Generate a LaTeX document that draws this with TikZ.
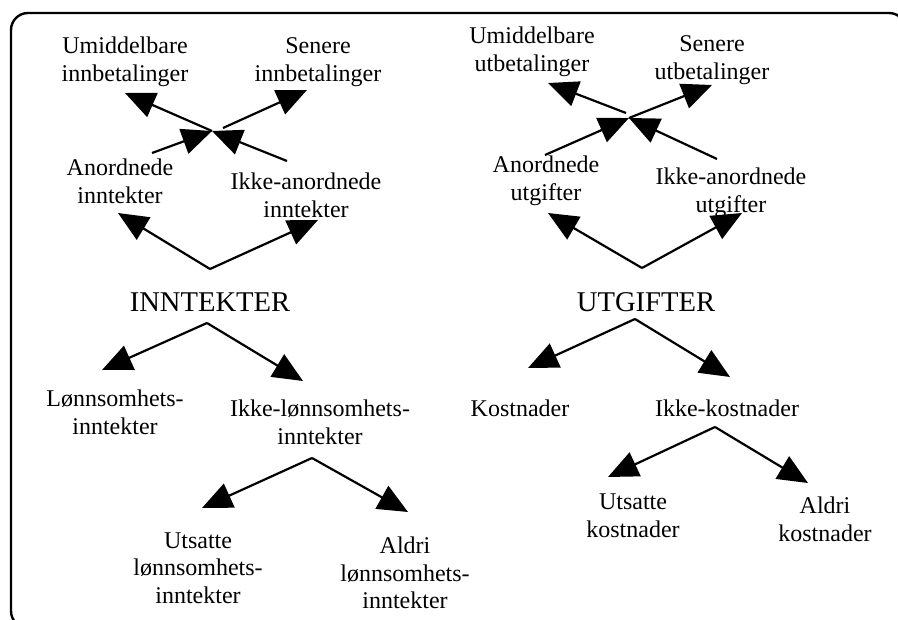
\documentclass[tikz,border=0pt]{standalone}
\usepackage{fontspec}
\setmainfont{Liberation Serif}
\usetikzlibrary{arrows.meta}
\tikzset{>={Triangle[length=15pt,width=13pt]},
  lbl/.style={align=center,inner sep=0pt,font=\fontsize{12}{13.8}\selectfont},
  big/.style={inner sep=0pt,font=\fontsize{14.3}{16}\selectfont},
  arr/.style={->,line width=1.1pt}}

\begin{document}
\begin{tikzpicture}[x=0.5pt,y=-0.5pt]
\useasboundingbox (0,0) rectangle (898,620);
\clip (0,0) rectangle (898,620);
\draw[line width=1.2pt,rounded corners=8.5pt] (11,13) rectangle (906,628);
\node[big] (inn) at (210,302) {INNTEKTER};
\node[big] (utg) at (646,302) {UTGIFTER};
\node[lbl] (umiI) at (125,62) {Umiddelbare\\innbetalinger};
\node[lbl] (senI) at (318,62) {Senere\\innbetalinger};
\node[lbl] (anoI) at (120,181) {Anordnede\\inntekter};
\node[lbl] (ikaI) at (306,195) {Ikke-anordnede\\inntekter};
\node[lbl] (lon) at (115,412) {Lønnsomhets-\\inntekter};
\node[lbl] (ikl) at (320,422) {Ikke-lønnsomhets-\\inntekter};
\node[lbl] (utsI) at (198,568) {Utsatte\\lønnsomhets-\\inntekter};
\node[lbl] (aldI) at (405,573) {Aldri\\lønnsomhets-\\inntekter};
\node[lbl] (umiU) at (532,52) {Umiddelbare\\utbetalinger};
\node[lbl] (senU) at (712,60) {Senere\\utbetalinger};
\node[lbl] (anoU) at (546,181) {Anordnede\\utgifter};
\node[lbl] (ikaU) at (731,193) {Ikke-anordnede\\utgifter};
\node[lbl] (kos) at (520,408) {Kostnader};
\node[lbl] (ikk) at (727,408) {Ikke-kostnader};
\node[lbl] (utsU) at (633,516) {Utsatte\\kostnader};
\node[lbl] (aldU) at (825,519) {Aldri\\kostnader};
\coordinate (mI) at (212,131);
\coordinate (mU) at (629,118);
\coordinate (sIkaI) at (287,161);
\coordinate (sAnoI) at (152,153);
\coordinate (sSenI) at (223,128);
\coordinate (tUmiI) at (125,93);
\coordinate (tSenI) at (307,90);
\coordinate (sIkaU) at (717,159);
\coordinate (sAnoU) at (545,155);
\coordinate (sUmiU) at (626,113);
\coordinate (tUmiU) at (548,83);
\coordinate (tSenU) at (712,85);
\coordinate (vI1) at (210,269);
\coordinate (vI2) at (207,323);
\coordinate (vI3) at (312,458);
\coordinate (vU1) at (642,268);
\coordinate (vU2) at (635,319);
\coordinate (vU3) at (715,427);
\coordinate (tAnoI) at (118,213);
\coordinate (tIkaI) at (318,220);
\coordinate (tLon) at (102,370);
\coordinate (tIkl) at (303,381);
\coordinate (tUtsI) at (202,508);
\coordinate (tAldI) at (408,512);
\coordinate (tAnoU) at (548,213);
\coordinate (tIkaU) at (742,213);
\coordinate (tKos) at (528,368);
\coordinate (tIkk) at (730,377);
\coordinate (tUtsU) at (608,477);
\coordinate (tAldU) at (808,483);
\draw[arr] (sIkaI) -- (mI);
\draw[arr] (sAnoI) -- (mI);
\draw[arr] (mI) -- (tUmiI);
\draw[arr] (sSenI) -- (tSenI);
\draw[arr] (sIkaU) -- (mU);
\draw[arr] (sAnoU) -- (mU);
\draw[arr] (sUmiU) -- (tUmiU);
\draw[arr] (mU) -- (tSenU);
\draw[arr] (vI1) -- (tAnoI);
\draw[arr] (vI1) -- (tIkaI);
\draw[arr] (vI2) -- (tLon);
\draw[arr] (vI2) -- (tIkl);
\draw[arr] (vI3) -- (tUtsI);
\draw[arr] (vI3) -- (tAldI);
\draw[arr] (vU1) -- (tAnoU);
\draw[arr] (vU1) -- (tIkaU);
\draw[arr] (vU2) -- (tKos);
\draw[arr] (vU2) -- (tIkk);
\draw[arr] (vU3) -- (tUtsU);
\draw[arr] (vU3) -- (tAldU);
\end{tikzpicture}
\end{document}
